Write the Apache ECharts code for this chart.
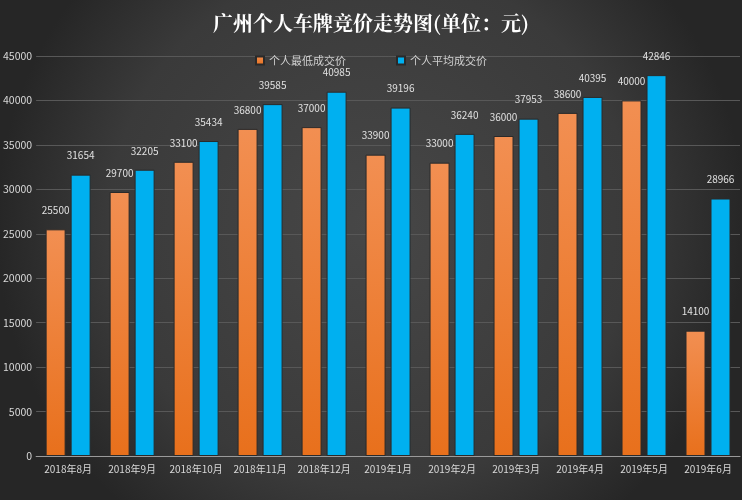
<!DOCTYPE html>
<html><head><meta charset="utf-8">
<script src="https://cdn.jsdelivr.net/npm/echarts@6/dist/echarts.min.js"></script>
<style>html,body{margin:0;padding:0;}#c{width:742px;height:500px;}</style>
</head><body><div id="c"></div>
<script>
const categories = ['2018年8月','2018年9月','2018年10月','2018年11月','2018年12月','2019年1月','2019年2月','2019年3月','2019年4月','2019年5月','2019年6月'];
const minPrice = [25500, 29700, 33100, 36800, 37000, 33900, 33000, 36000, 38600, 40000, 14100];
const avgPrice = [31654, 32205, 35434, 39585, 40985, 39196, 36240, 37953, 40395, 42846, 28966];
const yTicks = [0, 5000, 10000, 15000, 20000, 25000, 30000, 35000, 40000, 45000];

const chart = echarts.init(document.getElementById('c'));
const font = '"Noto Sans CJK SC", "Noto Sans", sans-serif';
chart.setOption({
  backgroundColor: {
    type: 'radial', x: 0.5, y: 0.45, r: 0.75,
    colorStops: [{offset: 0, color: '#474747'}, {offset: 0.7, color: '#3a3a3a'}, {offset: 1, color: '#262626'}]
  },
  title: {
    text: '广州个人车牌竞价走势图(单位：元)',
    left: 'center', top: 8,
    textStyle: {color: '#ffffff', fontSize: 20, fontWeight: 'bold', fontFamily: '"Noto Serif CJK SC", "Noto Sans CJK SC", serif'}
  },
  legend: {
    top: 50, left: 'center', itemGap: 50, itemWidth: 8, itemHeight: 8,
    icon: 'rect',
    textStyle: {color: '#d0d0d0', fontSize: 11, fontFamily: font},
    data: ['个人最低成交价', '个人平均成交价']
  },
  grid: {left: 36, right: 2, top: 56, bottom: 44, containLabel: false},
  xAxis: {
    type: 'category', data: categories,
    axisLine: {lineStyle: {color: '#9a9a9a', width: 1}},
    axisTick: {show: false},
    axisLabel: {color: '#d8d8d8', fontSize: 10, fontFamily: font, margin: 8, interval: 0}
  },
  yAxis: {
    type: 'value', min: 0, max: 45000, interval: 5000,
    axisLine: {show: false}, axisTick: {show: false},
    axisLabel: {color: '#d8d8d8', fontSize: 10.5, fontFamily: font, margin: 4,
      formatter: v => yTicks.includes(v) ? String(v) : ''},
    splitLine: {lineStyle: {color: '#585858', width: 1}}
  },
  series: [
    {
      name: '个人最低成交价', type: 'bar', data: minPrice, barWidth: 20, barGap: '25%',
      itemStyle: {
        color: {type: 'linear', x: 0, y: 0, x2: 0, y2: 1,
          colorStops: [{offset: 0, color: '#f28f52'}, {offset: 1, color: '#e8701c'}]},
        borderColor: '#2a2a2a', borderWidth: 1
      },
      label: {show: true, position: 'top', distance: 14, color: '#e0e0e0', fontSize: 10, fontFamily: font}
    },
    {
      name: '个人平均成交价', type: 'bar', data: avgPrice, barWidth: 20,
      itemStyle: {color: '#00b0f0', borderColor: '#2a2a2a', borderWidth: 1},
      label: {show: true, position: 'top', distance: 14, color: '#e0e0e0', fontSize: 10, fontFamily: font}
    }
  ]
});
</script></body></html>
